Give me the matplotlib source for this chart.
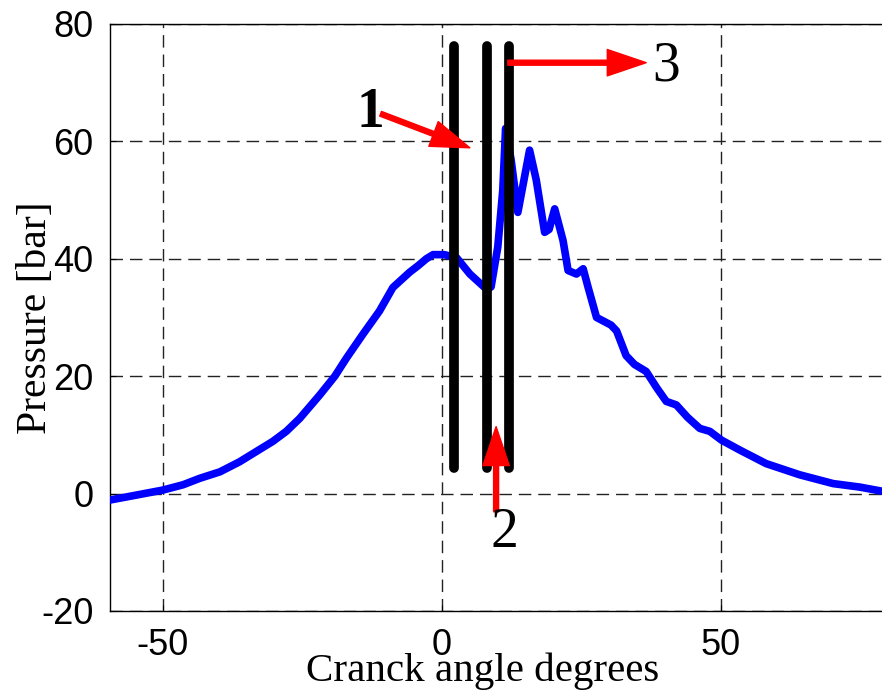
import matplotlib.pyplot as plt

plt.rcParams['axes.unicode_minus'] = False

# crank angle [deg] and cylinder pressure [bar]
angle = [-59.5, -55, -50, -46.4, -43.4, -39.8, -36.3, -33.9, -30.3, -27.9,
         -25.5, -21.9, -19.2, -17.1, -14.2, -11.2, -10.0, -8.8, -5.8, -4.3,
         -2.8, -1.6, 0.4, 2.6, 5.0, 8.0,
         8.8, 10.0, 10.9, 11.4, 12.4, 13.6, 15.7, 16.9, 18.4, 19.2,
         20.2, 21.7, 22.6, 24.1, 25.3, 26.2, 27.7, 30.3, 31.3, 33.0,
         34.5, 36.6, 38.5, 40.2, 42.0, 44.0, 46.2, 48.0, 50.1, 53.4,
         58.1, 64.1, 70.1, 74.9, 80.0]
pressure = [-1.1, -0.3, 0.6, 1.5, 2.6, 3.7, 5.4, 6.8, 8.9, 10.6,
            12.8, 16.8, 20.0, 23.1, 27.1, 31.1, 33.1, 35.1, 37.7, 38.8,
            40.0, 40.7, 40.7, 40.2, 37.4, 34.8,
            35.2, 42.0, 51.7, 62.2, 56.8, 47.9, 58.5, 53.4, 44.5, 45.0,
            48.5, 43.1, 38.0, 37.4, 38.3, 35.1, 30.0, 28.7, 27.7, 23.5,
            22.0, 20.8, 18.0, 15.7, 15.1, 13.0, 11.1, 10.6, 9.1, 7.4,
            5.1, 3.2, 1.7, 1.1, 0.2]

# marker lines 1..3
marker_x = [2.1, 8.0, 12.0]
marker_bottom = 4.3
marker_top = 76.2

# labels with their arrows: (text, text pos, arrow tail, arrow tip)
callouts = [
    ('1', (-12.8, 64.8), (-11.0, 64.7), (5.0, 58.9)),
    ('2', (11.2, -6.8), (9.7, -3.1), (9.7, 11.4)),
    ('3', (40.2, 72.8), (11.8, 73.4), (36.6, 73.4)),
]

xticks = [-50, 0, 50]
yticks = [-20, 0, 20, 40, 60, 80]

fig = plt.figure(figsize=(8.82, 6.92), dpi=100)
ax = fig.add_axes([0.1247, 0.1171, 0.8825, 0.8483])

ax.set_xlim(-59.5, 80)
ax.set_ylim(-20, 80)
ax.set_xticks(xticks)
ax.set_yticks(yticks)
ax.grid(True, color='#222222', linestyle=(0, (9, 5)), linewidth=1.0)
ax.set_axisbelow(True)

ax.plot(angle, pressure, color='#0000ff', linewidth=5.5, solid_capstyle='round',
        solid_joinstyle='round', zorder=3)

for xm in marker_x:
    ax.plot([xm, xm], [marker_bottom, marker_top], color='black', linewidth=7,
            solid_capstyle='round', zorder=4)

for txt, tpos, tail, tip in callouts:
    ax.annotate('', xy=tip, xytext=tail,
                arrowprops=dict(width=3.6, headwidth=19, headlength=28,
                                shrink=0, facecolor='red', edgecolor='red'),
                zorder=5)
    ax.text(tpos[0], tpos[1], txt, fontsize=40, family='Liberation Serif',
            fontweight='bold' if txt == '1' else 'normal',
            ha='center', va='center', zorder=6)

for s in ax.spines.values():
    s.set_linewidth(1.0)
ax.tick_params(direction='in', length=4, width=0.8, pad=12,
               labelsize=26, top=False, right=False)
for lab in ax.get_xticklabels() + ax.get_yticklabels():
    lab.set_family('Liberation Sans')

ax.set_xlabel('Cranck angle degrees', family='Liberation Serif', fontsize=29.5)
ax.xaxis.set_label_coords(0.479, -0.07)
ax.set_ylabel('Pressure [bar]', family='Liberation Serif', fontsize=30)
ax.yaxis.set_label_coords(-0.071, 0.50)

fig.savefig('out.png', dpi=100)
